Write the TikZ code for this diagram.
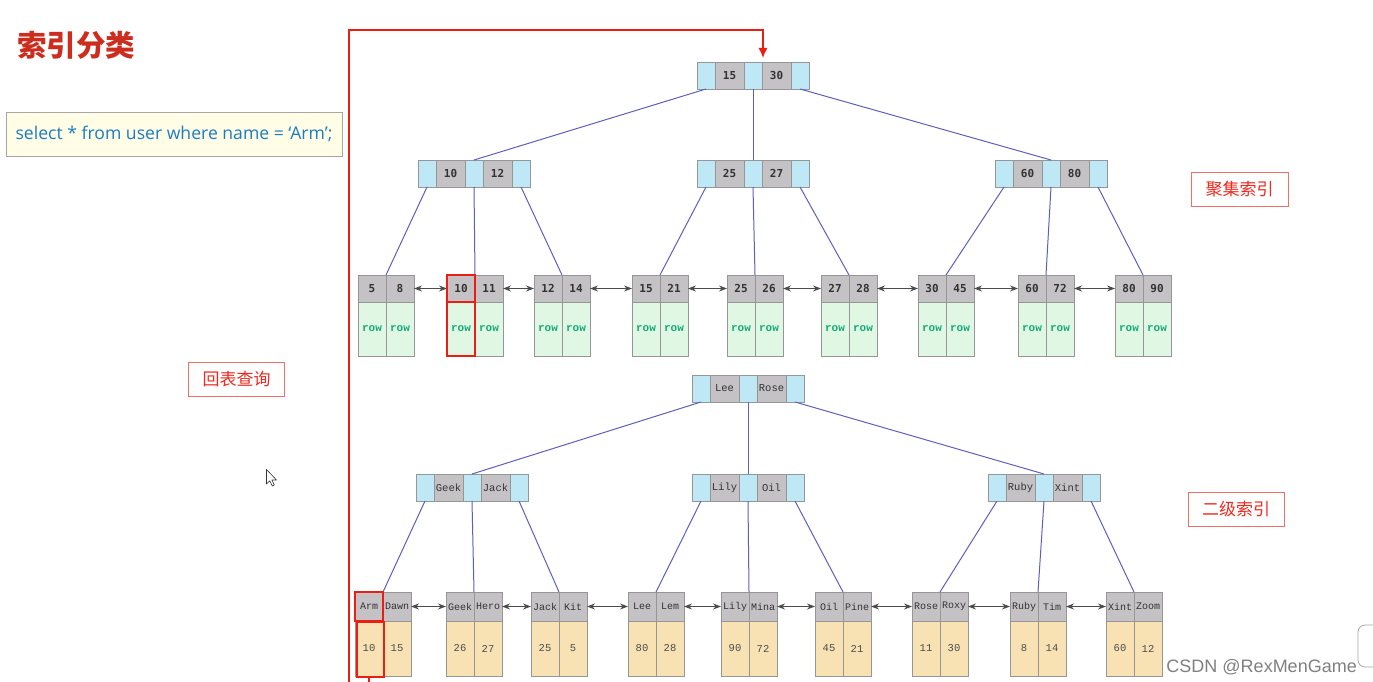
\documentclass[tikz,border=0pt]{standalone}
\usepackage{fontspec}
\setmainfont{DejaVu Sans}
\newfontfamily\cjk{Noto Sans CJK SC}
\newfontfamily\monob{DejaVu Sans Mono}
\newfontfamily\cour{Liberation Mono}
\newfontfamily\sqlf{Open Sans}
\newfontfamily\wmf{Liberation Sans}
\usetikzlibrary{arrows.meta,calc}
\definecolor{ptrc}{RGB}{190,232,245}
\definecolor{keyc}{RGB}{197,194,198}
\definecolor{cellb}{RGB}{150,150,150}
\definecolor{grn}{RGB}{224,247,228}
\definecolor{tanc}{RGB}{248,226,180}
\definecolor{edgec}{RGB}{95,95,190}
\definecolor{rowc}{RGB}{20,170,120}
\definecolor{hl}{RGB}{235,30,20}
\definecolor{titlec}{RGB}{205,45,30}
\definecolor{sqlbg}{RGB}{255,253,230}
\definecolor{sqlc}{RGB}{25,125,195}
\definecolor{lblred}{RGB}{240,40,30}
\definecolor{lblbd}{RGB}{245,110,100}
\tikzset{
  cell/.style={draw=cellb, line width=0.8pt, inner sep=0pt, outer sep=0pt, anchor=north west},
  ptr/.style={cell, fill=ptrc, minimum width=18pt, minimum height=27pt},
  keya/.style={cell, fill=keyc, minimum width=29pt, minimum height=27pt,
    font=\monob\bfseries\fontsize{11}{13}\selectfont, text=black!80},
  keyb/.style={keya, font=\cour\fontsize{10.5}{12}\selectfont, text=black!80},
  lkone/.style={cell, fill=keyc, minimum width=28pt, minimum height=27pt,
    font=\monob\bfseries\fontsize{11}{13}\selectfont, text=black!80},
  lvone/.style={cell, anchor=north, fill=grn, minimum width=28pt, minimum height=54pt,
    font=\cour\bfseries\fontsize{11}{13}\selectfont, text=rowc},
  lktwo/.style={cell, fill=keyc, minimum width=28pt, minimum height=29pt,
    font=\cour\fontsize{10}{12}\selectfont, text=black!80},
  lvtwo/.style={cell, anchor=north, fill=tanc, minimum width=28pt, minimum height=55pt,
    font=\cour\fontsize{10.5}{12}\selectfont, text=black!70},
  edge/.style={draw=edgec, line width=1pt},
  link/.style={draw=black!70, line width=1pt, {Stealth[length=8pt,width=6pt]}-{Stealth[length=8pt,width=6pt]}},
  hlbox/.style={draw=hl, line width=2pt},
  route/.style={draw=hl, line width=1.4pt},
  lbl/.style={draw=lblbd, line width=1pt, fill=white, text=lblred, inner sep=0pt,
    font=\cjk\fontsize{17}{19}\selectfont, minimum height=34pt},
}
% internal node: name, left, top, key1, key2, keystyle
\newcommand\bnode[6]{%
  \node[ptr] (#1p1) at (#2,#3) {};
  \node[#6] (#1k1) at (#1p1.north east) {#4};
  \node[ptr] (#1p2) at (#1k1.north east) {};
  \node[#6] (#1k2) at (#1p2.north east) {#5};
  \node[ptr] (#1p3) at (#1k2.north east) {};
}
% leaf: name, left, top, k1, k2, v1, v2, row (one/two)
\newcommand\leaf[8]{%
  \node[lk#8] (#1a) at (#2,#3) {#4};
  \node[lk#8] (#1b) at (#1a.north east) {#5};
  \node[lv#8] (#1c) at (#1a.south) {#6};
  \node[lv#8] (#1d) at (#1b.south) {#7};
}
\begin{document}
\begin{tikzpicture}[x=1pt,y=-1pt]
\useasboundingbox[fill=white] (0,0) rectangle (1373,682);

% title and query
\node[anchor=west, inner sep=0pt, text=titlec, font=\cjk\bfseries\fontsize{29.5}{31}\selectfont] (title) at (17,45) {索引分类};
\node[draw=black!35, fill=sqlbg, line width=0.8pt, minimum width=336pt, minimum height=44pt,
  text=sqlc, font=\sqlf\fontsize{17.6}{19}\selectfont] (sql) at (174,134) {select * from user where name = ‘Arm’;};

% ---------- clustered index ----------
\bnode{Ra}{697}{62}{15}{30}{keya}
\bnode{Aa}{418}{160}{10}{12}{keya}
\bnode{Ba}{697}{160}{25}{27}{keya}
\bnode{Ca}{995}{160}{60}{80}{keya}

\leaf{La}{358}{275}{5}{8}{row}{row}{one}
\leaf{Lb}{447}{275}{10}{11}{row}{row}{one}
\leaf{Lc}{534}{275}{12}{14}{row}{row}{one}
\leaf{Ld}{632}{275}{15}{21}{row}{row}{one}
\leaf{Le}{727}{275}{25}{26}{row}{row}{one}
\leaf{Lf}{821}{275}{27}{28}{row}{row}{one}
\leaf{Lg}{918}{275}{30}{45}{row}{row}{one}
\leaf{Lh}{1018}{275}{60}{72}{row}{row}{one}
\leaf{Li}{1115}{275}{80}{90}{row}{row}{one}

\draw[edge] (Rap1.south) -- (Aap2.north);
\draw[edge] (Rap2.south) -- (Bap2.north);
\draw[edge] (Rap3.south) -- (Cap2.north);
\draw[edge] (Aap1.south) -- (Laa.north east);
\draw[edge] (Aap2.south) -- (Lba.north east);
\draw[edge] (Aap3.south) -- (Lca.north east);
\draw[edge] (Bap1.south) -- (Lda.north east);
\draw[edge] (Bap2.south) -- (Lea.north east);
\draw[edge] (Bap3.south) -- (Lfa.north east);
\draw[edge] (Cap1.south) -- (Lga.north east);
\draw[edge] (Cap2.south) -- (Lha.north east);
\draw[edge] (Cap3.south) -- (Lia.north east);

\draw[link] (Lab.east) -- (Lba.west);
\draw[link] (Lbb.east) -- (Lca.west);
\draw[link] (Lcb.east) -- (Lda.west);
\draw[link] (Ldb.east) -- (Lea.west);
\draw[link] (Leb.east) -- (Lfa.west);
\draw[link] (Lfb.east) -- (Lga.west);
\draw[link] (Lgb.east) -- (Lha.west);
\draw[link] (Lhb.east) -- (Lia.west);

\draw[hlbox] (Lba.north west) rectangle (Lba.south east);
\draw[hlbox] (Lbc.north west) rectangle (Lbc.south east);

% ---------- secondary index ----------
\bnode{Rb}{692}{375}{Lee}{Rose}{keyb}
\bnode{Ab}{416}{474}{Geek}{Jack}{keyb}
\bnode{Bb}{692}{474}{Lily}{Oil}{keyb}
\bnode{Cb}{988}{474}{Ruby}{Xint}{keyb}

\leaf{Ma}{355}{592}{Arm}{Dawn}{10}{15}{two}
\leaf{Mb}{446}{592}{Geek}{Hero}{26}{27}{two}
\leaf{Mc}{531}{592}{Jack}{Kit}{25}{5}{two}
\leaf{Md}{628}{592}{Lee}{Lem}{80}{28}{two}
\leaf{Me}{721}{592}{Lily}{Mina}{90}{72}{two}
\leaf{Mf}{815}{592}{Oil}{Pine}{45}{21}{two}
\leaf{Mg}{912}{592}{Rose}{Roxy}{11}{30}{two}
\leaf{Mh}{1010}{592}{Ruby}{Tim}{8}{14}{two}
\leaf{Mi}{1106}{592}{Xint}{Zoom}{60}{12}{two}

\draw[edge] (Rbp1.south) -- (Abp2.north);
\draw[edge] (Rbp2.south) -- (Bbp2.north);
\draw[edge] (Rbp3.south) -- (Cbp2.north);
\draw[edge] (Abp1.south) -- (Maa.north east);
\draw[edge] (Abp2.south) -- (Mba.north east);
\draw[edge] (Abp3.south) -- (Mca.north east);
\draw[edge] (Bbp1.south) -- (Mda.north east);
\draw[edge] (Bbp2.south) -- (Mea.north east);
\draw[edge] (Bbp3.south) -- (Mfa.north east);
\draw[edge] (Cbp1.south) -- (Mga.north east);
\draw[edge] (Cbp2.south) -- (Mha.north east);
\draw[edge] (Cbp3.south) -- (Mia.north east);

\draw[link] (Mab.east) -- (Mba.west);
\draw[link] (Mbb.east) -- (Mca.west);
\draw[link] (Mcb.east) -- (Mda.west);
\draw[link] (Mdb.east) -- (Mea.west);
\draw[link] (Meb.east) -- (Mfa.west);
\draw[link] (Mfb.east) -- (Mga.west);
\draw[link] (Mgb.east) -- (Mha.west);
\draw[link] (Mhb.east) -- (Mia.west);

\draw[hlbox] (Maa.north west) rectangle (Maa.south east);
\draw[hlbox] ($(Mac.north west)+(2,1)$) rectangle ($(Mac.south east)+(1,1)$);

% ---------- back-to-table route ----------
\coordinate (rb) at (349,682);
\draw[route] (Mac.south) -- (Mac.south |- rb);
\draw[route, -{Latex[length=10pt,width=9pt]}] (rb) |- ($(Rak2.north west)+(1,-32)$) -- ($(Rak2.north west)+(1,-4)$);

% labels
\node[lbl, minimum width=97pt] (lab1) at (1239.5,189) {聚集索引};
\node[lbl, minimum width=96pt] (lab2) at (1236,509.5) {二级索引};
\node[lbl, minimum width=96pt] (lab3) at (236.5,379.5) {回表查询};

% watermark and screen artifacts
\node[anchor=base east, inner sep=0pt, text=black!50, font=\wmf\fontsize{18}{20}\selectfont] (wm) at (1357,672) {CSDN @RexMenGame};
\draw[black!35, line width=0.8pt, fill=white, rounded corners=7pt] (1358,625) rectangle (1385,667);
\draw[black!80, fill=white, line width=0.6pt, line join=round] (266.5,469.5) -- (266.5,484) -- (269.8,480.8) -- (272.3,486) -- (274.3,485) -- (271.9,480) -- (276.5,480) -- cycle;
\end{tikzpicture}
\end{document}
